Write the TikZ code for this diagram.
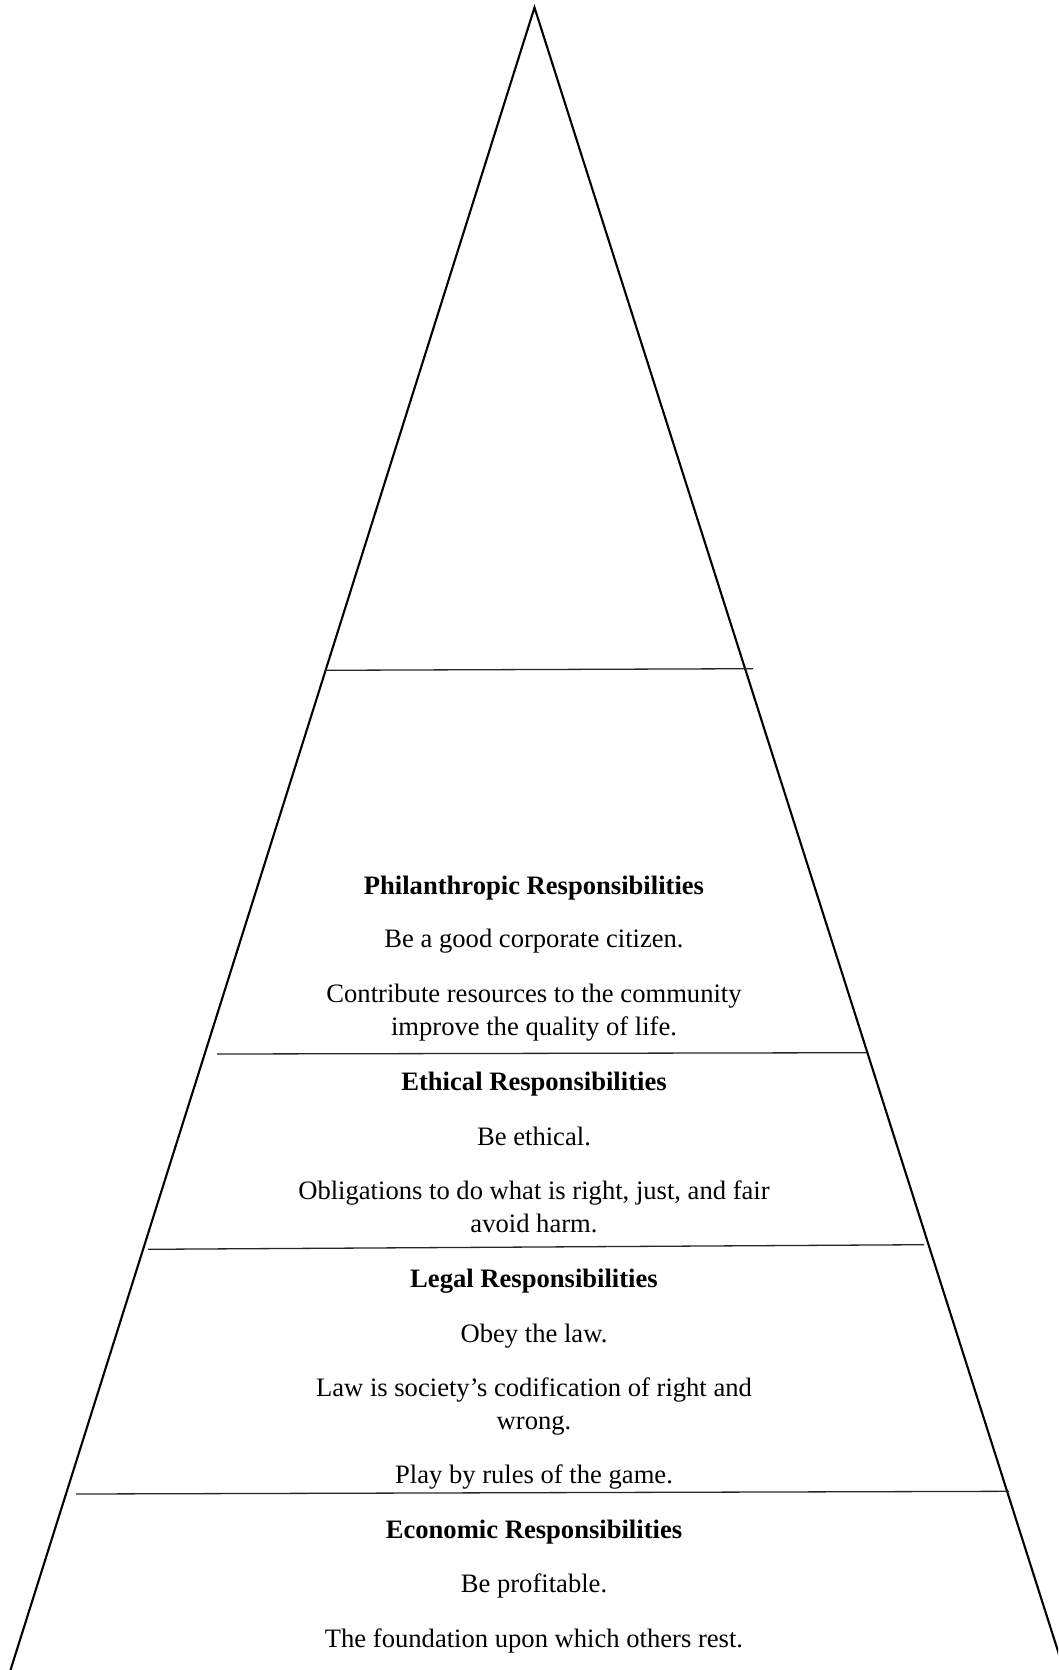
\documentclass[tikz,border=0pt]{standalone}
\usepackage{fontspec}
\setmainfont{Liberation Serif}
\begin{document}
\begin{tikzpicture}[x=1pt,y=-1pt,
  side/.style={line width=2.1pt,line join=miter},
  divider/.style={line width=1.3pt,black!85},
  txt/.style={inner sep=0pt,anchor=base,align=center,font=\fontsize{26.6}{33}\selectfont},
  head/.style={txt,font=\fontsize{26.6}{33}\selectfont\bfseries}]
\useasboundingbox (0,0) rectangle (1058,1670);
\clip (0,0) rectangle (1058,1670);
% pyramid
\coordinate (apex) at (534.5,7.5);
\coordinate (bl) at (10.5,1670);
\coordinate (br) at (1064,1670);
\draw[side] (bl) -- (apex) -- (br);
% dividers
\coordinate (d1l) at (325,670.3); \coordinate (d1r) at (753,668.7);
\coordinate (d2l) at (217,1054);  \coordinate (d2r) at (866,1052.7);
\coordinate (d3l) at (148,1249.3);\coordinate (d3r) at (924,1244.7);
\coordinate (d4l) at (76,1494);   \coordinate (d4r) at (1009,1491.3);
\draw[divider] (d1l) -- (d1r);
\draw[divider] (d2l) -- (d2r);
\draw[divider] (d3l) -- (d3r);
\draw[divider] (d4l) -- (d4r);
% texts (multi-line nodes: base = baseline of last line)
\node[head] (ph) at (534,894) {Philanthropic Responsibilities};
\node[txt] (ph1) at (534,947) {Be a good corporate citizen.};
\node[txt] (ph2) at (534,1035) {Contribute resources to the community\\improve the quality of life.};
\node[head] (et) at (534,1090) {Ethical Responsibilities};
\node[txt] (et1) at (534,1145) {Be ethical.};
\node[txt] (et2) at (534,1232) {Obligations to do what is right, just, and fair\\avoid harm.};
\node[head] (lg) at (534,1287) {Legal Responsibilities};
\node[txt] (lg1) at (534,1342) {Obey the law.};
\node[txt] (lg2) at (534,1429) {Law is society’s codification of right and\\wrong.};
\node[txt] (lg3) at (534,1483) {Play by rules of the game.};
\node[head] (ec) at (534,1538) {Economic Responsibilities};
\node[txt] (ec1) at (534,1592) {Be profitable.};
\node[txt] (ec2) at (534,1647) {The foundation upon which others rest.};
\end{tikzpicture}
\end{document}
